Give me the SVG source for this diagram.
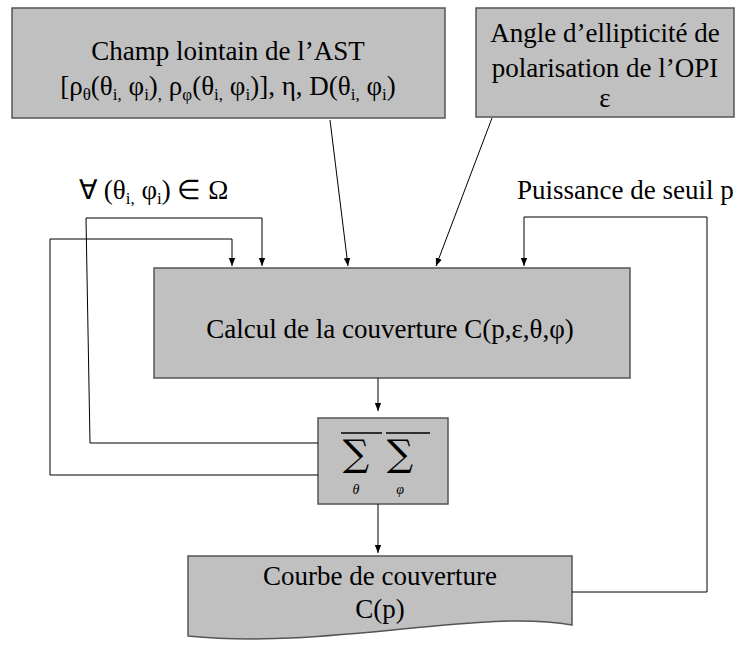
<svg xmlns="http://www.w3.org/2000/svg" width="748" height="646" viewBox="0 0 748 646">
<style>
.box{fill:#c0c0c0;stroke:#555;stroke-width:1.5}
.t{font-family:"Liberation Serif","Times New Roman",serif;font-size:27px;fill:#000}
.sub{font-size:17px}
.ca{fill:none;stroke:#000;stroke-width:1;marker-end:url(#ah)}
.ov{stroke:#000;stroke-width:1.5}
.sig{font-family:"DejaVu Serif",serif;font-size:37px}
.ix{font-family:"Liberation Serif",serif;font-size:14px;font-style:italic}
</style>
<defs>
<marker id="ah" viewBox="0 0 10 10" refX="10" refY="5" markerWidth="8" markerHeight="8" markerUnits="userSpaceOnUse" orient="auto">
<path d="M0,1 L10,5 L0,9 Z" fill="#000"/>
</marker>
</defs>
<rect width="748" height="646" fill="#fff"/>
<g id="champ">
<rect class="box" x="12" y="8" width="433" height="110"/>
<text class="t" x="228" y="60" text-anchor="middle">Champ lointain de l’AST</text>
<text class="t" x="228" y="95" text-anchor="middle">[ρ<tspan class="sub" dy="5">θ</tspan><tspan dy="-5">(θ</tspan><tspan class="sub" dy="5">i,</tspan><tspan dy="-5"> φ</tspan><tspan class="sub" dy="5">i</tspan><tspan dy="-5">)</tspan><tspan class="sub" dy="5">,</tspan><tspan dy="-5"> ρ</tspan><tspan class="sub" dy="5">φ</tspan><tspan dy="-5">(θ</tspan><tspan class="sub" dy="5">i,</tspan><tspan dy="-5"> φ</tspan><tspan class="sub" dy="5">i</tspan><tspan dy="-5">)], η, D(θ</tspan><tspan class="sub" dy="5">i,</tspan><tspan dy="-5"> φ</tspan><tspan class="sub" dy="5">i</tspan><tspan dy="-5">)</tspan></text>
</g>
<g id="angle">
<rect class="box" x="476" y="8" width="258" height="109"/>
<text class="t" x="605" y="42" text-anchor="middle">Angle d’ellipticité de</text>
<text class="t" x="605" y="77" text-anchor="middle">polarisation de l’OPI</text>
<text class="t" x="605" y="107" text-anchor="middle">ε</text>
</g>
<g id="calcul">
<rect class="box" x="154" y="268" width="476" height="110"/>
<text class="t" x="390" y="338" text-anchor="middle">Calcul de la couverture C(p,ε,θ,φ)</text>
</g>
<g id="somme">
<rect class="box" x="318" y="418" width="130" height="86"/>
<line class="ov" x1="341" y1="433" x2="382" y2="433"/>
<line class="ov" x1="386" y1="433" x2="430" y2="433"/>
<text class="sig" x="356" y="466" text-anchor="middle">∑</text>
<text class="sig" x="400" y="466" text-anchor="middle">∑</text>
<text class="ix" x="356" y="494" text-anchor="middle">θ</text>
<text class="ix" x="400" y="494" text-anchor="middle">φ</text>
</g>
<g id="courbe">
<path class="box" d="M188,556 H572 V625 C480,608 330,650 188,636 Z"/>
<text class="t" x="380" y="585" text-anchor="middle">Courbe de couverture</text>
<text class="t" x="380" y="618" text-anchor="middle">C(p)</text>
</g>
<g id="labels">
<text class="t" x="79" y="199">∀ (θ<tspan class="sub" dy="5">i,</tspan><tspan dy="-5"> φ</tspan><tspan class="sub" dy="5">i</tspan><tspan dy="-5">) ∈ Ω</tspan></text>
<text class="t" x="517" y="199">Puissance de seuil p</text>
</g>
<g id="connectors">
<path class="ca" d="M318,443 H90 L86,218 H262 V266"/>
<path class="ca" d="M318,475 H50 V239 H232 V266"/>
<path class="ca" d="M572,592 H707 V217 H524 V266"/>
<path class="ca" d="M330,120 L348,266"/>
<path class="ca" d="M492,118 L436,266"/>
<path class="ca" d="M378,378 V411"/>
<path class="ca" d="M378,504 V553"/>
</g>
</svg>
